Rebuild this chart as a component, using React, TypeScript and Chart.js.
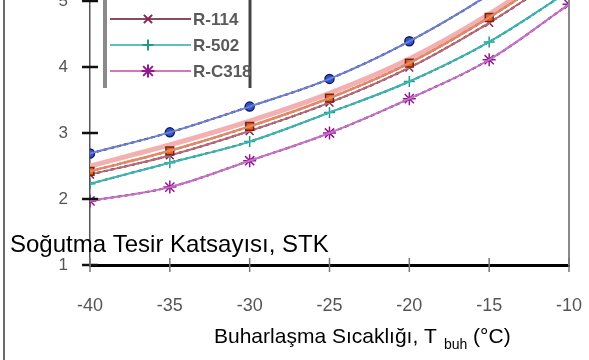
import { useEffect, useRef } from "react";
import { Chart, registerables } from "chart.js";

Chart.register(...registerables);

// Evaporation temperature (°C)
const evapTemps = [-40, -35, -30, -25, -20, -15, -10];
const xTickValues = [-40, -35, -30, -25, -20, -15, -10];
const yTickValues = [1, 2, 3, 4, 5];

// Coefficient of performance (STK) for each refrigerant
const stkR22 = [2.69, 3.01, 3.4, 3.82, 4.39, 5.1, 5.95];
const stkR12 = [2.42, 2.73, 3.1, 3.53, 4.06, 4.75, 5.55];
const stkR134a = [2.5, 2.82, 3.18, 3.6, 4.12, 4.8, 5.62];
const stkR114 = [2.37, 2.66, 3.03, 3.46, 3.99, 4.67, 5.46];
const stkR502 = [2.23, 2.55, 2.87, 3.31, 3.78, 4.38, 5.15];
const stkRC318 = [1.97, 2.18, 2.58, 3.0, 3.52, 4.11, 4.95];

const seriesLabels = ["R-22", "R-12", "R-134a", "R-114", "R-502", "R-C318"];
const seriesValues = [stkR22, stkR12, stkR134a, stkR114, stkR502, stkRC318];

const yTitle = "Soğutma Tesir Katsayısı, STK";
const xTitleMain = "Buharlaşma Sıcaklığı, T";
const xTitleSub = "buh";
const xTitleUnit = " (°C)";

type Style = {
  under: string;
  underWidth: number;
  over: string;
  overWidth: number;
  dash: number[];
  marker: string | null;
  radius: number;
  fill: string;
  stroke: string;
  legendLine: string;
};

const seriesStyles: Style[] = [
  { under: "#6f7fd0", underWidth: 2, over: "#0c1450", overWidth: 2, dash: [4, 3], marker: "circle", radius: 4.5, fill: "#3355cc", stroke: "#101c66", legendLine: "#101c66" },
  { under: "#e08a68", underWidth: 2.5, over: "#4a1206", overWidth: 2, dash: [4, 3], marker: "rect", radius: 5.5, fill: "#e2641e", stroke: "#7a2010", legendLine: "#7a2010" },
  { under: "#f4b0b0", underWidth: 5, over: "#d06a6a", overWidth: 1.2, dash: [7, 5], marker: null, radius: 0, fill: "#cc5a5a", stroke: "#cc5a5a", legendLine: "#e07a7a" },
  { under: "#b86a7a", underWidth: 2, over: "#3a0814", overWidth: 2, dash: [4, 3], marker: "crossRot", radius: 5.5, fill: "#8a2050", stroke: "#8a2050", legendLine: "#5a1424" },
  { under: "#3cb4b4", underWidth: 2, over: "#08484a", overWidth: 2, dash: [4, 3], marker: "cross", radius: 5.5, fill: "#1f9c86", stroke: "#1f9c86", legendLine: "#2aa8a8" },
  { under: "#c870c8", underWidth: 2, over: "#3e0840", overWidth: 2, dash: [4, 3], marker: "star", radius: 6.5, fill: "#901890", stroke: "#901890", legendLine: "#c04aa8" },
];

// Part of the canvas that sits above the visible page
const HIDDEN_TOP = 52;
const FONT = "'Liberation Sans', Arial, sans-serif";

function drawMarker(ctx: CanvasRenderingContext2D, kind: string | null, x: number, y: number, r: number, fill: string, stroke: string) {
  if (!kind) return;
  ctx.save();
  ctx.fillStyle = fill;
  ctx.strokeStyle = stroke;
  ctx.lineWidth = 2;
  ctx.beginPath();
  if (kind === "circle") {
    ctx.arc(x, y, r, 0, Math.PI * 2);
    ctx.fill();
    ctx.stroke();
  } else if (kind === "rect") {
    ctx.rect(x - r, y - r, 2 * r, 2 * r);
    ctx.fill();
    ctx.stroke();
  } else {
    if (kind === "cross" || kind === "star") {
      ctx.moveTo(x - r, y);
      ctx.lineTo(x + r, y);
      ctx.moveTo(x, y - r);
      ctx.lineTo(x, y + r);
    }
    if (kind === "crossRot" || kind === "star") {
      const e = r * 0.75;
      ctx.moveTo(x - e, y - e);
      ctx.lineTo(x + e, y + e);
      ctx.moveTo(x - e, y + e);
      ctx.lineTo(x + e, y - e);
    }
    ctx.stroke();
  }
  ctx.restore();
}

const decorations = {
  id: "decorations",
  afterDraw(chart: any) {
    const { ctx, chartArea: a, scales } = chart;
    const xs = scales.x;
    const ys = scales.y;
    const seg = (x1: number, y1: number, x2: number, y2: number) => {
      ctx.beginPath();
      ctx.moveTo(x1, y1);
      ctx.lineTo(x2, y2);
      ctx.stroke();
    };
    ctx.save();

    // right edge of the plot
    ctx.strokeStyle = "#8a8a8a";
    ctx.lineWidth = 2;
    seg(a.right, 0, a.right, a.bottom);

    // outer frame on the left
    ctx.strokeStyle = "#6a6a6a";
    ctx.lineWidth = 2;
    seg(4, 0, 4, chart.height);

    // y tick marks crossing the axis
    ctx.strokeStyle = "#111";
    ctx.lineWidth = 2.5;
    ys.ticks.forEach((t: any) => {
      const y = ys.getPixelForValue(t.value);
      seg(a.left - 8, y, a.left + 8, y);
    });

    // x tick marks crossing the axis
    ctx.strokeStyle = "#777";
    ctx.lineWidth = 1.5;
    xs.ticks.forEach((t: any) => {
      const x = xs.getPixelForValue(t.value);
      seg(x, a.bottom - 7, x, a.bottom + 7);
    });

    // legend box
    const boxLeft = 105;
    const boxRight = 250;
    const boxBottom = 88 + HIDDEN_TOP;
    ctx.strokeStyle = "#8a8a8a";
    ctx.lineWidth = 4;
    seg(boxLeft, 0, boxLeft, boxBottom);
    ctx.strokeStyle = "#444";
    ctx.lineWidth = 3;
    seg(boxRight, 0, boxRight, boxBottom);

    ctx.font = `bold 17px ${FONT}`;
    ctx.textBaseline = "middle";
    ctx.textAlign = "left";
    seriesLabels.forEach((label, i) => {
      const st = seriesStyles[i];
      const y = HIDDEN_TOP + 19 + (i - 3) * 26;
      ctx.strokeStyle = st.legendLine;
      ctx.lineWidth = 1.6;
      seg(110, y, 191, y);
      drawMarker(ctx, st.marker, 148, y, st.radius, st.fill, st.stroke);
      ctx.fillStyle = "#5a5a5a";
      ctx.fillText(label, 193, y + 1);
    });

    // axis titles
    ctx.fillStyle = "#000";
    ctx.textBaseline = "alphabetic";
    ctx.font = `24px ${FONT}`;
    ctx.fillText(yTitle, 10, 252 + HIDDEN_TOP);

    const baseY = 343 + HIDDEN_TOP;
    let x = 214;
    ctx.font = `21px ${FONT}`;
    ctx.fillText(xTitleMain, x, baseY);
    x += ctx.measureText(xTitleMain).width + 7;
    ctx.font = `14px ${FONT}`;
    ctx.fillText(xTitleSub, x, baseY + 6);
    x += ctx.measureText(xTitleSub).width;
    ctx.font = `21px ${FONT}`;
    ctx.fillText(xTitleUnit, x, baseY);

    ctx.restore();
  },
};

export default function App() {
  const canvasRef = useRef<HTMLCanvasElement | null>(null);

  useEffect(() => {
    const canvas = canvasRef.current;
    if (!canvas) return;

    const datasets: any[] = [];
    seriesValues.forEach((values, i) => {
      const st = seriesStyles[i];
      const points = evapTemps.map((t, j) => ({ x: t, y: values[j] }));
      datasets.push({
        label: seriesLabels[i],
        data: points,
        borderColor: st.under,
        borderWidth: st.underWidth,
        pointRadius: 0,
        cubicInterpolationMode: "monotone",
      });
      datasets.push({
        label: seriesLabels[i] + " ",
        data: points,
        borderColor: st.over,
        borderWidth: st.overWidth,
        borderDash: st.dash,
        pointStyle: st.marker ?? false,
        pointRadius: st.radius,
        pointBackgroundColor: st.fill,
        pointBorderColor: st.stroke,
        pointBorderWidth: 1.5,
        cubicInterpolationMode: "monotone",
      });
    });

    const chart = new Chart(canvas, {
      type: "line",
      data: { datasets },
      options: {
        responsive: false,
        animation: false,
        layout: { padding: { top: 20, right: 20, left: 0, bottom: 0 } },
        plugins: { legend: { display: false }, tooltip: { enabled: false } },
        scales: {
          x: {
            type: "linear",
            min: -40,
            max: -10,
            afterBuildTicks: (s: any) => {
              s.ticks = xTickValues.map((v) => ({ value: v }));
            },
            afterFit: (s: any) => {
              s.height = 95;
              s.paddingLeft = 0;
              s.paddingRight = 0;
            },
            ticks: {
              color: "#555",
              font: { family: FONT, size: 18 },
              padding: 30,
              maxRotation: 0,
              callback: (v: any) => String(v),
            },
            grid: { display: true, drawOnChartArea: false, drawTicks: false },
            border: { display: true, color: "#000", width: 3 },
          },
          y: {
            type: "linear",
            min: 1,
            max: 5.5,
            afterBuildTicks: (s: any) => {
              s.ticks = yTickValues.map((v) => ({ value: v }));
            },
            afterFit: (s: any) => {
              s.width = 90;
              s.paddingTop = 0;
              s.paddingBottom = 0;
            },
            ticks: {
              color: "#555",
              font: { family: FONT, size: 17 },
              padding: 22,
              callback: (v: any) => String(v),
            },
            grid: { display: true, drawOnChartArea: false, drawTicks: false },
            border: { display: true, color: "#555", width: 1.5 },
          },
        },
      },
      plugins: [decorations],
    });

    return () => chart.destroy();
  }, []);

  return (
    <div
      style={{
        position: "fixed",
        left: 0,
        top: 0,
        width: 589,
        height: 360,
        overflow: "hidden",
        background: "#fff",
      }}
    >
      <canvas
        ref={canvasRef}
        width={589}
        height={360 + HIDDEN_TOP}
        style={{ position: "absolute", left: 0, top: -HIDDEN_TOP, width: 589, height: 360 + HIDDEN_TOP }}
      />
    </div>
  );
}
